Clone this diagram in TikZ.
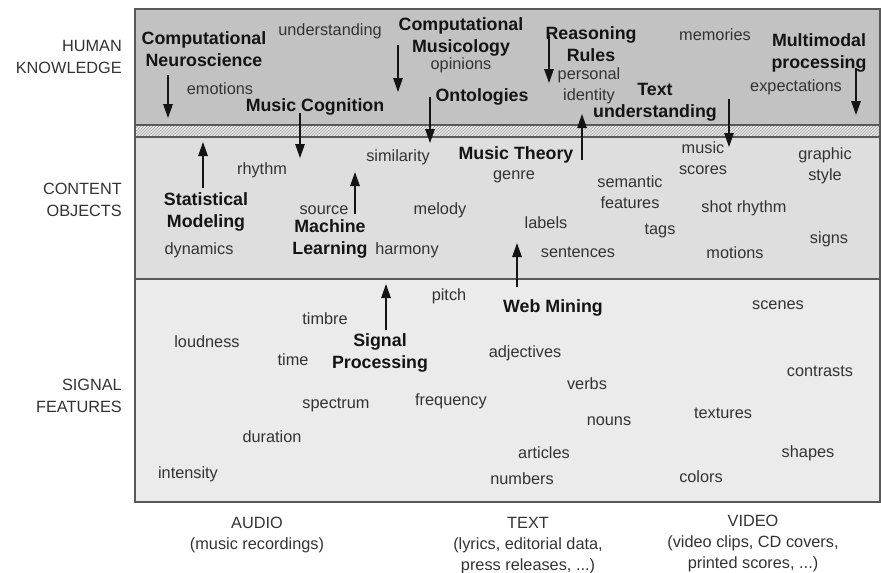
\documentclass[tikz,border=0pt]{standalone}
\usepackage{fontspec}
\setmainfont{Liberation Sans}
\usetikzlibrary{arrows.meta}
\usetikzlibrary{patterns}
\usetikzlibrary{positioning}
\tikzstyle{kw}=[text=black!80,font=\fontsize{16.3}{21}\selectfont,inner sep=0pt,align=center]
\tikzstyle{fld}=[text=black!92,font=\bfseries\fontsize{17.8}{22}\selectfont,inner sep=0pt,align=center]
\tikzstyle{lvl}=[text=black!80,font=\fontsize{16.3}{22}\selectfont,inner sep=0pt,align=right,anchor=east]
\tikzstyle{arr}=[-{Triangle[length=14pt,width=9.5pt]},draw=black!92,line width=1.3pt]
\tikzstyle{band}=[draw=black!65,line width=1.3pt]

\begin{document}
\begin{tikzpicture}[x=1pt,y=-1pt]
  \useasboundingbox (0,0) rectangle (881,573);
  \fill[black!24] (135,9) rectangle (880,125);
  \fill[black!10] (135,125) rectangle (880,137);
  \fill[pattern=north east lines,pattern color=black!35] (135,125) rectangle (880,137);
  \fill[black!13] (135,137) rectangle (880,279);
  \fill[black!8] (135,279) rectangle (880,502);
  \draw[band] (135,9) rectangle (880,502);
  \draw[band] (135,125) -- (880,125);
  \draw[band] (135,137) -- (880,137);
  \draw[band] (135,279) -- (880,279);

  \node[lvl] (human) at (122,57) {HUMAN\\KNOWLEDGE};
  \node[lvl] (content) at (122,200) {CONTENT\\OBJECTS};
  \node[lvl] (signal) at (122,396) {SIGNAL\\FEATURES};

  \begin{scope}
    \node[fld] (neuro) at (204,49) {Computational\\Neuroscience};
    \node[kw] (underst) at (330,31) {understanding};
    \node[kw] (emotions) at (220,89) {emotions};
    \node[fld] (cogn) at (315,107) {Music Cognition};
    \node[fld] (musicol) at (461,37) {Computational\\Musicology};
    \node[kw] (opinions) at (461,65) {opinions};
    \node[fld] (onto) at (482,97) {Ontologies};
    \node[fld] (reason) at (591,44) {Reasoning\\Rules};
    \node[kw] (identity) at (589,86) {personal\\identity};
    \node[kw] (memories) at (715,35) {memories};
    \node[fld] (multi) at (819,53) {Multimodal\\processing};
    \node[kw] (expect) at (796,87) {expectations};
    \node[fld] (textu) at (655,102) {Text\\understanding};
  \end{scope}

  \begin{scope}
    \node[kw] (rhythm) at (262,170) {rhythm};
    \node[kw] (similar) at (398,157) {similarity};
    \node[fld] (theory) at (516,155) {Music Theory};
    \node[kw] (scores) at (703,158) {music\\scores};
    \node[kw] (graphic) at (825,166) {graphic\\style};
    \node[kw] (genre) at (514,177) {genre};
    \node[kw] (semantic) at (630,192) {semantic\\features};
    \node[fld] (stat) at (206,212) {Statistical\\Modeling};
    \node[kw] (source) at (324,210) {source};
    \node[fld] (ml) at (330,239) {Machine\\Learning};
    \node[kw] (melody) at (440,210) {melody};
    \node[kw] (labels) at (546,223) {labels};
    \node[kw] (shot) at (744,208) {shot rhythm};
    \node[kw] (tags) at (660,231) {tags};
    \node[kw] (signs) at (829,239) {signs};
    \node[kw] (dynamics) at (199,250) {dynamics};
    \node[kw] (harmony) at (407,250) {harmony};
    \node[kw] (sentences) at (578,252) {sentences};
    \node[kw] (motions) at (735,253) {motions};
  \end{scope}

  \begin{scope}
    \node[kw] (pitch) at (449,296) {pitch};
    \node[fld] (web) at (553,308) {Web Mining};
    \node[kw] (scenes) at (778,305) {scenes};
    \node[kw] (timbre) at (325,319) {timbre};
    \node[kw] (loudness) at (207,342) {loudness};
    \node[fld] (sigproc) at (380,353) {Signal\\Processing};
    \node[kw] (time) at (293,360) {time};
    \node[kw] (adject) at (525,353) {adjectives};
    \node[kw] (contrasts) at (820,371) {contrasts};
    \node[kw] (verbs) at (587,384) {verbs};
    \node[kw] (freq) at (451,401) {frequency};
    \node[kw] (spectrum) at (336,405) {spectrum};
    \node[kw] (textures) at (723,413) {textures};
    \node[kw] (nouns) at (609,421) {nouns};
    \node[kw] (duration) at (272,437) {duration};
    \node[kw] (articles) at (544,453) {articles};
    \node[kw] (shapes) at (808,453) {shapes};
    \node[kw] (intensity) at (188,474) {intensity};
    \node[kw] (numbers) at (522,479) {numbers};
    \node[kw] (colors) at (701,477) {colors};
  \end{scope}

  \node[kw] (audio) at (257,535) {AUDIO\\(music recordings)};
  \node[kw] (text) at (528,546) {TEXT\\(lyrics, editorial data,\\press releases, ...)};
  \node[kw] (video) at (753,543) {VIDEO\\(video clips, CD covers,\\printed scores, ...)};

  \coordinate (neuro-a) at (168,75);   \coordinate (neuro-b) at (168,118);
  \coordinate (cogn-a) at (300,113);   \coordinate (cogn-b) at (300,158);
  \coordinate (musicol-a) at (398,45); \coordinate (musicol-b) at (398,92);
  \coordinate (onto-a) at (430,97);    \coordinate (onto-b) at (430,143);
  \coordinate (reason-a) at (549,35);  \coordinate (reason-b) at (549,83);
  \coordinate (multi-a) at (856,68);   \coordinate (multi-b) at (856,115);
  \coordinate (textu-a) at (729,99);   \coordinate (textu-b) at (729,147);
  \coordinate (theory-a) at (582,160); \coordinate (theory-b) at (582,114);
  \coordinate (stat-a) at (203,188);   \coordinate (stat-b) at (203,142);
  \coordinate (ml-a) at (355,214);     \coordinate (ml-b) at (355,172);
  \coordinate (web-a) at (517,287);    \coordinate (web-b) at (517,243);
  \coordinate (sig-a) at (386,330);    \coordinate (sig-b) at (386,284);

  \draw[arr] (neuro-a) -- (neuro-b);
  \draw[arr] (cogn-a) -- (cogn-b);
  \draw[arr] (musicol-a) -- (musicol-b);
  \draw[arr] (onto-a) -- (onto-b);
  \draw[arr] (reason-a) -- (reason-b);
  \draw[arr] (multi-a) -- (multi-b);
  \draw[arr] (textu-a) -- (textu-b);
  \draw[arr] (theory-a) -- (theory-b);
  \draw[arr] (stat-a) -- (stat-b);
  \draw[arr] (ml-a) -- (ml-b);
  \draw[arr] (web-a) -- (web-b);
  \draw[arr] (sig-a) -- (sig-b);
\end{tikzpicture}
\end{document}
